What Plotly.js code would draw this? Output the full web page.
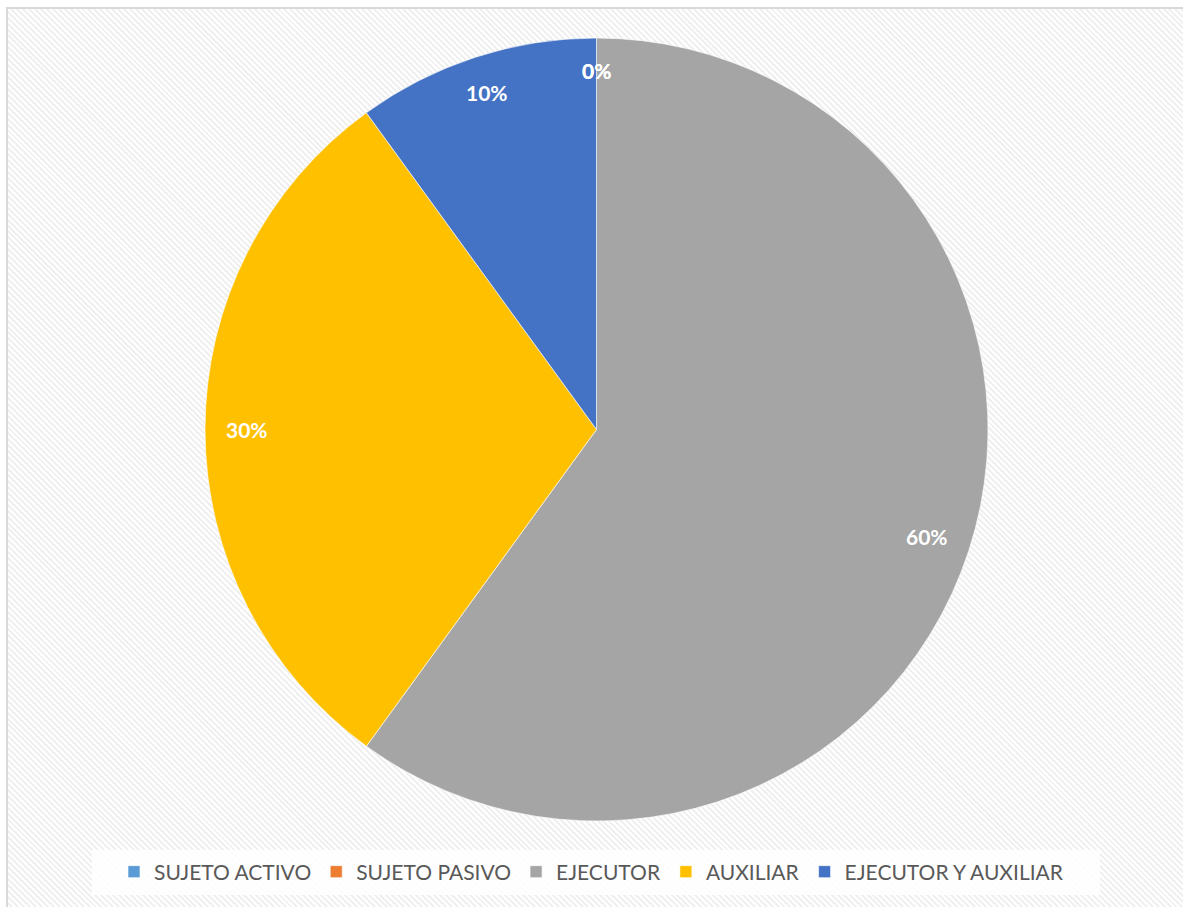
<!DOCTYPE html>
<html>
<head>
<meta charset="utf-8">
<script src="https://cdn.plot.ly/plotly-3.0.1.min.js"></script>
<style>
  html, body { margin: 0; padding: 0; background: #ffffff; }
  #frame {
    position: absolute; left: 6px; top: 7px; width: 1190px; height: 910px;
    border-top: 2px solid #d9d9d9; border-left: 2px solid #d9d9d9;
    background: repeating-linear-gradient(45deg, #ffffff 0px, #ffffff 2.1px, #f0f0f0 2.1px, #f0f0f0 4.2px);
  }
  #chart { position: absolute; left: 0; top: 0; width: 1183px; height: 907px; }
</style>
</head>
<body>
<div id="frame"></div>
<div id="chart"></div>
<script>
// ---- data ----
const categories = ["SUJETO ACTIVO", "SUJETO PASIVO", "EJECUTOR", "AUXILIAR", "EJECUTOR Y AUXILIAR"];
const percentValues = [0, 0, 60, 30, 10];
const sliceColors = ["#5B9BD5", "#ED7D31", "#A5A5A5", "#FFC000", "#4472C4"];

// ---- layout geometry ----
const W = 1183, H = 907;
const domX = [205 / W, 988 / W];
const domY = [1 - 821 / H, 1 - 38 / H];
const cx = (domX[0] + domX[1]) / 2 * W;
const cy = (1 - (domY[0] + domY[1]) / 2) * H;
const R = Math.min((domX[1] - domX[0]) * W, (domY[1] - domY[0]) * H) / 2;

// label annotations placed at the inside end of each slice, derived from the values
const total = percentValues.reduce((a, b) => a + b, 0);
const annotations = [];
let cum = 0;
percentValues.forEach((v, i) => {
  const mid = (cum + v / 2) / total * 2 * Math.PI; // clockwise from 12 o'clock
  cum += v;
  const ux = Math.sin(mid), uy = -Math.cos(mid);
  const txt = Math.round(v / total * 100) + "%";
  const halfW = txt.length * 6.5, halfH = 10;
  const r = R - 22 - (halfW * Math.abs(ux) + halfH * Math.abs(uy));
  annotations.push({
    x: (cx + r * ux) / W, y: 1 - (cy + r * uy) / H,
    xref: "paper", yref: "paper", xanchor: "center", yanchor: "middle",
    text: "<b>" + txt + "</b>", showarrow: false,
    font: { family: "Lato, 'Open Sans', sans-serif", size: 21, color: "#ffffff" }
  });
});

const trace = {
  type: "pie",
  labels: categories,
  values: percentValues,
  marker: { colors: sliceColors, line: { color: "#ffffff", width: 0.6 } },
  sort: false,
  direction: "clockwise",
  rotation: 0,
  textinfo: "none",
  hoverinfo: "label+percent",
  domain: { x: domX, y: domY },
  showlegend: true
};

const layout = {
  width: W, height: H,
  margin: { l: 0, r: 0, t: 0, b: 0 },
  paper_bgcolor: "rgba(0,0,0,0)",
  plot_bgcolor: "rgba(0,0,0,0)",
  showlegend: true,
  legend: {
    orientation: "h", x: 0.5, xanchor: "center", y: 1 - 872 / H, yanchor: "middle",
    bgcolor: "rgba(0,0,0,0)",
    font: { family: "Lato, 'Open Sans', sans-serif", size: 21, color: "#595959" },
    traceorder: "normal"
  },
  shapes: [{
    type: "rect", xref: "paper", yref: "paper", layer: "below",
    x0: 92 / W, x1: 1100 / W, y0: 1 - 895 / H, y1: 1 - 850 / H,
    fillcolor: "rgba(255,255,255,0.85)", line: { width: 0 }
  }],
  annotations: annotations
};

Plotly.newPlot("chart", [trace], layout, { displayModeBar: false, staticPlot: false });
</script>
</body>
</html>
